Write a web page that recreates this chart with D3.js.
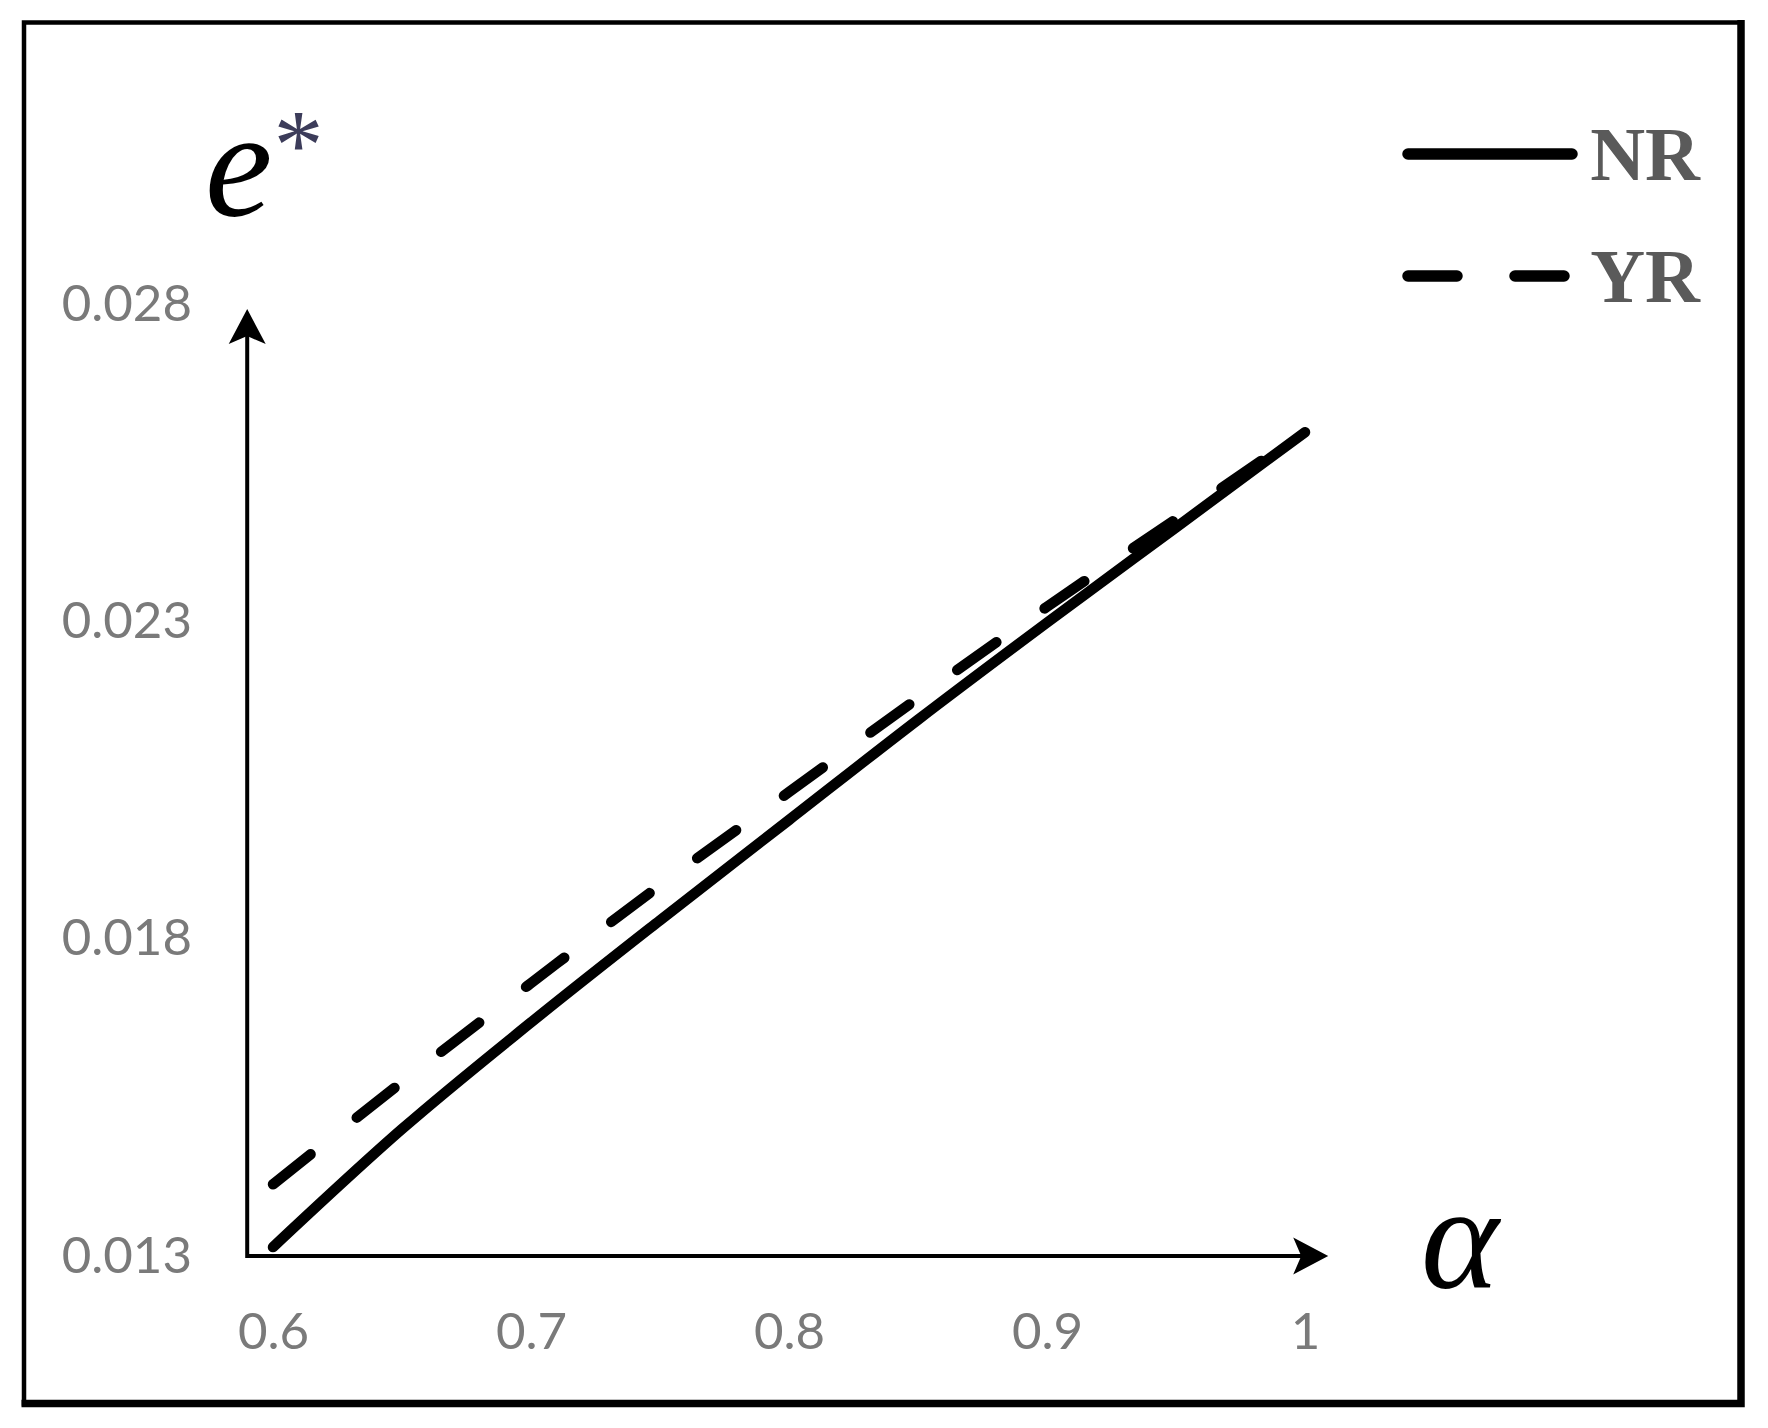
<!DOCTYPE html>
<html>
<head>
    <title>e* vs alpha</title>
    <script src="https://d3js.org/d3.v7.min.js"></script>
    <style>
        body {
            margin: 0;
            background-color: #FFFFFF;
        }

        .tick text {
            font-family: Lato, "Open Sans", sans-serif;
            font-size: 51px;
            fill: #7a7a7a;
        }

        .curve {
            fill: none;
            stroke: #000000;
            stroke-width: 10.5px;
            stroke-linecap: round;
            stroke-linejoin: round;
        }
    </style>
</head>
<body>

    <div id="chart"></div>

    <script>
        // Data
        var alphaValues = [0.6, 0.65, 0.7, 0.75, 0.8, 0.85, 0.9, 0.95, 1.0];
        var nrValues = [0.01314, 0.01500, 0.01668, 0.01829, 0.01987, 0.02145, 0.02298, 0.02448, 0.02598];
        var yrValues = [0.01413, 0.01574, 0.01730, 0.01884, 0.02031, 0.02179, 0.02323, 0.02461, 0.02600];
        var seriesNames = ["NR", "YR"];
        var xTickValues = [0.6, 0.7, 0.8, 0.9, 1];
        var yTickValues = [0.013, 0.018, 0.023, 0.028];

        var width = 1768;
        var height = 1428;

        var svg = d3.select("#chart")
            .append("svg")
            .attr("width", width)
            .attr("height", height);

        // Outer frame (right and bottom edges a bit heavier)
        svg.append("rect")
            .attr("x", 24)
            .attr("y", 22.5)
            .attr("width", 1717)
            .attr("height", 1381)
            .style("fill", "none")
            .style("stroke", "#000")
            .style("stroke-width", 4.5);

        svg.append("path")
            .attr("d", "M1741,20 L1741,1403.5 L21.5,1403.5")
            .style("fill", "none")
            .style("stroke", "#000")
            .style("stroke-width", 7.5);

        // Scales
        var x = d3.scaleLinear()
            .domain([0.6, 1])
            .range([273, 1305]);

        var y = d3.scaleLinear()
            .domain([0.013, 0.028])
            .range([1256, 304]);

        // Arrow axes
        var arrowHead = "M0,0 L-35,-18.5 L-27,0 L-35,18.5 Z";
        var originX = x(0.59);
        var originY = y(0.013);
        var xTip = x(1.009);
        var yTip = y(0.02792);

        svg.append("line")
            .attr("x1", originX)
            .attr("y1", originY)
            .attr("x2", xTip - 8)
            .attr("y2", originY)
            .style("stroke", "#000")
            .style("stroke-width", 4);

        svg.append("line")
            .attr("x1", originX)
            .attr("y1", originY + 2)
            .attr("x2", originX)
            .attr("y2", yTip + 8)
            .style("stroke", "#000")
            .style("stroke-width", 4);

        svg.append("path")
            .attr("d", arrowHead)
            .attr("transform", "translate(" + xTip + "," + originY + ")");

        svg.append("path")
            .attr("d", arrowHead)
            .attr("transform", "translate(" + originX + "," + yTip + ") rotate(-90)");

        // Tick labels
        var xAxis = svg.append("g")
            .attr("transform", "translate(0," + 1313 + ")")
            .call(d3.axisBottom(x)
                .tickValues(xTickValues)
                .tickSize(0)
                .tickPadding(0)
                .tickFormat(function (d) { return d === 1 ? "1" : d3.format(".1f")(d); }));
        xAxis.select(".domain").remove();

        var yAxis = svg.append("g")
            .attr("transform", "translate(" + 192 + ",0)")
            .call(d3.axisLeft(y)
                .tickValues(yTickValues)
                .tickSize(0)
                .tickPadding(0)
                .tickFormat(d3.format(".3f")));
        yAxis.select(".domain").remove();

        // Axis titles: e* with the star raised
        var eLabel = svg.append("text")
            .attr("x", 205)
            .attr("y", 216)
            .style("font-family", "'Liberation Serif', 'Times New Roman', serif")
            .style("font-style", "italic")
            .style("font-size", "152px")
            .style("fill", "#000")
            .text("e");

        eLabel.append("tspan")
            .attr("dx", 1)
            .attr("dy", -38)
            .style("font-style", "normal")
            .style("font-size", "100px")
            .style("fill", "#3c3c5a")
            .text("*");

        svg.append("text")
            .attr("x", 1421)
            .attr("y", 1288)
            .style("font-family", "'Liberation Serif', 'Times New Roman', serif")
            .style("font-style", "italic")
            .style("font-size", "148px")
            .style("fill", "#000")
            .text("\u03B1");

        // Curves
        var line = d3.line()
            .curve(d3.curveMonotoneX)
            .x(function (d) { return x(d[0]); })
            .y(function (d) { return y(d[1]); });

        svg.append("path")
            .datum(d3.zip(alphaValues, nrValues))
            .attr("class", "curve")
            .attr("d", line);

        svg.append("path")
            .datum(d3.zip(alphaValues, yrValues))
            .attr("class", "curve")
            .style("stroke-dasharray", "48 59")
            .attr("d", line);

        // Legend
        var legendY = [154, 276];
        var legend = svg.selectAll(".legend")
            .data(seriesNames)
            .enter()
            .append("g")
            .attr("class", "legend");

        legend.append("line")
            .attr("x1", 1408)
            .attr("x2", function (d, i) { return i === 0 ? 1572 : 1567; })
            .attr("y1", function (d, i) { return legendY[i]; })
            .attr("y2", function (d, i) { return legendY[i]; })
            .style("stroke", "#000")
            .style("stroke-width", 11.5)
            .style("stroke-linecap", "round")
            .style("stroke-dasharray", function (d, i) { return i === 0 ? null : "49 58"; });

        legend.append("text")
            .attr("x", 1700)
            .attr("y", function (d, i) { return legendY[i] + 26; })
            .attr("text-anchor", "end")
            .style("font-family", "'Liberation Serif', 'Times New Roman', serif")
            .style("font-weight", "bold")
            .style("font-size", "76px")
            .style("fill", "#5a5a5a")
            .text(function (d) { return d; });
    </script>
</body>
</html>
